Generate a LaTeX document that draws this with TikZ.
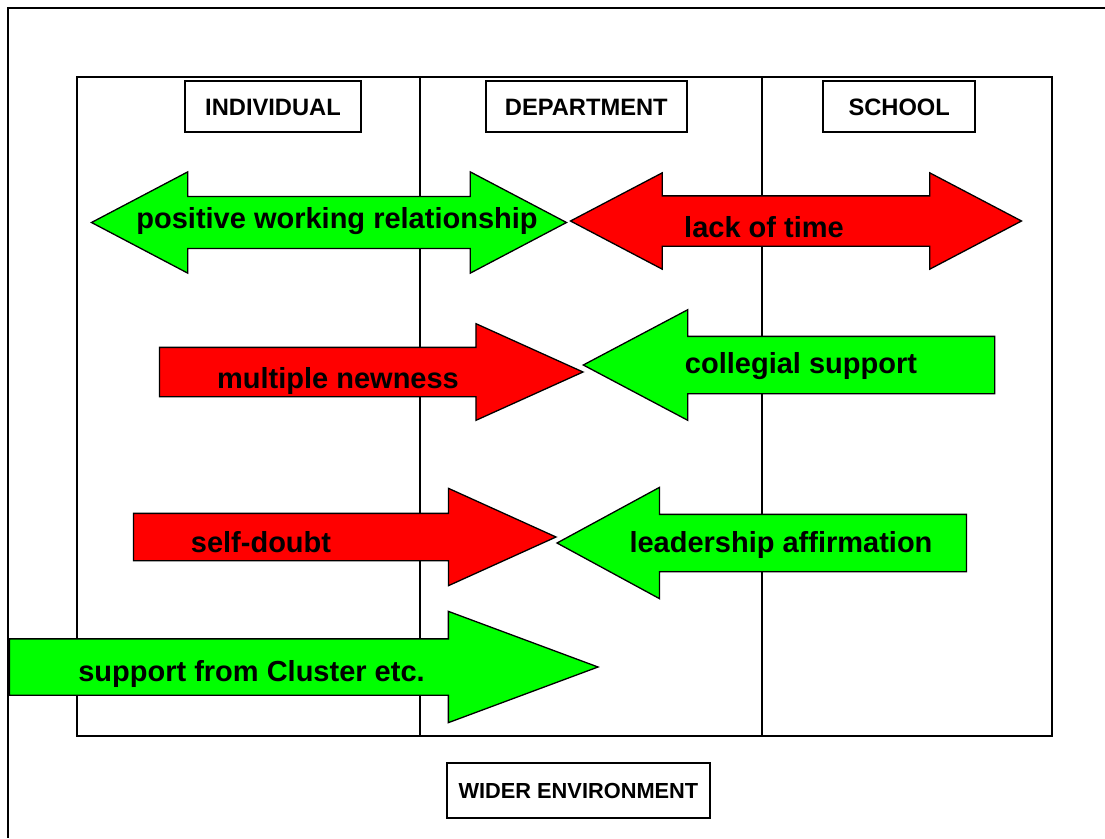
\documentclass[tikz,border=0pt]{standalone}
\usepackage{fontspec}
\setmainfont{Liberation Sans}
\usepackage{tikz}
\usetikzlibrary{shapes,arrows}
\usetikzlibrary{positioning, fit, calc}
\usepackage{xcolor}
\definecolor{helpgreen}{RGB}{0,255,0}
\definecolor{hinderred}{RGB}{255,0,0}
\tikzset{frame/.style={draw, line width=2pt},
	level/.style={draw, line width=2pt, fill=white, minimum height=51pt, text height=17pt, text depth=0pt, inner sep=0pt, font=\fontsize{23.7}{28}\selectfont\bfseries}
}

\begin{document}
\begin{tikzpicture}[x=1pt,y=-1pt]
\tikzstyle{force} = [draw=black, line width=1.3pt, inner xsep=0pt, outer sep=0pt, text height=0pt, text depth=0pt]
\tikzstyle{help} = [force, fill=helpgreen]
\tikzstyle{hinder} = [force, fill=hinderred]
\tikzstyle{push} = [single arrow, anchor=tip]
\tikzstyle{pull} = [single arrow, shape border rotate=180, anchor=tip]
\tikzstyle{both} = [double arrow]
\tikzstyle{lbl} = [anchor=base, inner sep=0pt, font=\fontsize{29}{34}\selectfont\bfseries]

\useasboundingbox (0,0) rectangle (1105,838);

%Frames
\draw [frame] (1105,8) -| (8,838);
\coordinate (tl) at (77,77);
\coordinate (br) at (1052,736);
\draw [frame] (tl) rectangle (br);
\draw [frame, line width=1.6pt] (420,77) -- (420,736);
\draw [frame, line width=1.6pt] (762,77) -- (762,736);

%Forces
\node [both, help, minimum height=475pt, inner ysep=25.3pt, double arrow head extend=24.7pt, double arrow tip angle=55.5] (pwr) at (329,222.5) {};
\node [both, hinder, minimum height=451pt, inner ysep=24.5pt, double arrow head extend=23pt, double arrow tip angle=55.4] (lot) at (796,221) {};
\node [push, hinder, minimum height=423.5pt, inner ysep=24pt, single arrow head extend=23.7pt, single arrow tip angle=48.6] (mn) at (583,372) {};
\node [pull, help, minimum height=411.5pt, inner ysep=28pt, single arrow head extend=26.7pt, single arrow tip angle=55.8] (cs) at (583.3,365) {};
\node [push, hinder, minimum height=422.5pt, inner ysep=23pt, single arrow head extend=25pt, single arrow tip angle=48.7] (sd) at (556,537) {};
\node [pull, help, minimum height=409.5pt, inner ysep=28pt, single arrow head extend=27pt, single arrow tip angle=57] (la) at (557,543) {};
\node [push, help, minimum height=588.5pt, inner ysep=27.5pt, single arrow head extend=27.5pt, single arrow tip angle=40.8] (sc) at (598,667) {};

\node [lbl] (pwrT) at (337,228.3) {positive working relationship};
\node [lbl] (lotT) at (764,237.7) {lack of time};
\node [lbl] (mnT) at (338,388) {multiple newness};
\node [lbl] (csT) at (801,373) {collegial support};
\node [lbl] (sdT) at (261,552) {self-doubt};
\node [lbl] (laT) at (781,552) {leadership affirmation};
\node [lbl] (scT) at (251.5,681) {support from Cluster etc.};

%Levels
\node [level, minimum width=176pt] (ind) at (273,106.5) {INDIVIDUAL};
\node [level, minimum width=200.7pt] (dep) at (586.3,106.5) {DEPARTMENT};
\node [level, minimum width=151.7pt] (sch) at (899.2,106.5) {SCHOOL};
\node [level, minimum width=263pt, minimum height=55.6pt, text height=15.6pt, font=\fontsize{21.8}{26}\selectfont\bfseries] (env) at (578.4,790.5) {WIDER ENVIRONMENT};
\end{tikzpicture}
\end{document}
